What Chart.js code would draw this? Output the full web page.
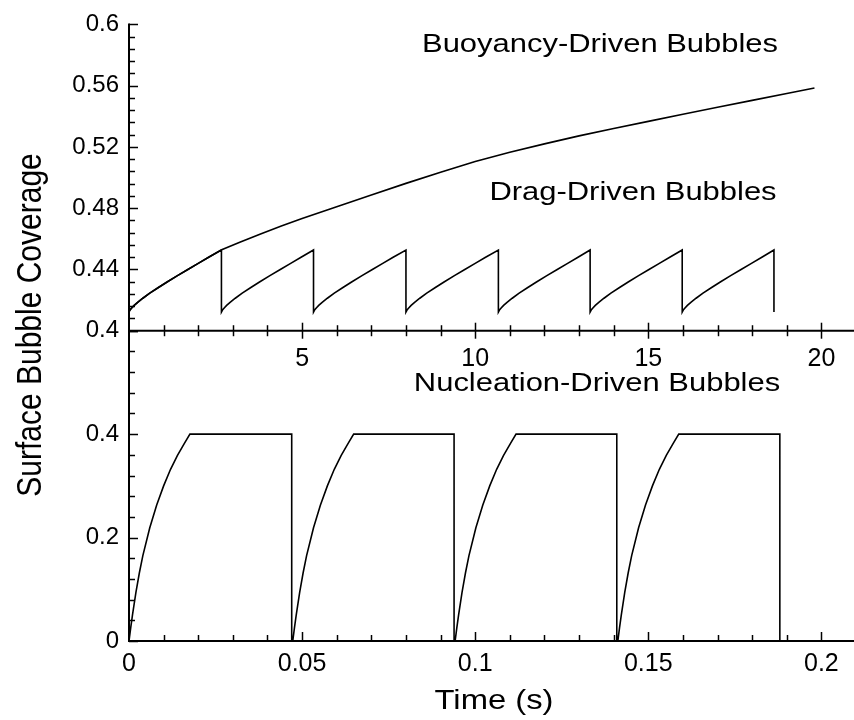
<!DOCTYPE html>
<html><head><meta charset="utf-8">
<script src="https://cdn.jsdelivr.net/npm/chart.js@4.4.1/dist/chart.umd.min.js"></script>
<style>html,body{margin:0;padding:0;background:#fff;overflow:hidden;width:854px;height:720px}canvas{display:block}</style>
</head><body>
<canvas id="c" width="856" height="720"></canvas>
<script>
// ---- Top panel (time axis labelled 0..20) ----
const buoyancyTime = [0, 0.03, 0.08, 0.15, 0.25, 0.4, 0.6, 0.85, 1.1, 1.4, 1.7, 2.0, 2.3, 2.66, 3.2, 3.8, 4.4, 5, 6, 7, 8, 9, 10, 11, 12, 13, 14, 15, 16, 17, 18, 19, 19.8];
const buoyancyCoverage = [0.4127, 0.4137, 0.4150, 0.4166, 0.4185, 0.4212, 0.4245, 0.4282, 0.4318, 0.4360, 0.4400, 0.4440, 0.4480, 0.4527, 0.4578, 0.4632, 0.4683, 0.4732, 0.4809, 0.4886, 0.4962, 0.5035, 0.5105, 0.5165, 0.5220, 0.5272, 0.5320, 0.5367, 0.5413, 0.5459, 0.5504, 0.5549, 0.5585];

// drag-driven saw tooth: one cycle shape, plus the cycle start / drop times
const dragToothOffset = [0, 0.03, 0.08, 0.15, 0.25, 0.4, 0.6, 0.85, 1.1, 1.4, 1.7, 2.0, 2.3, 2.66];
const dragToothCoverage = [0.4122, 0.4135, 0.4148, 0.4165, 0.4185, 0.4212, 0.4245, 0.4282, 0.4318, 0.4360, 0.4400, 0.4440, 0.4480, 0.4527];
const dragCycleStart = [0, 2.67, 5.33, 8.0, 10.67, 13.32, 15.98];
const dragDropTime = [2.67, 5.33, 8.0, 10.67, 13.32, 15.98, 18.63];

// ---- Bottom panel (time in s) ----
const nucRiseOffset = [0, 0.0005, 0.001, 0.002, 0.003, 0.004, 0.006, 0.008, 0.010, 0.012, 0.014, 0.016, 0.0176];
const nucRiseCoverage = [0, 0.026, 0.050, 0.094, 0.132, 0.165, 0.219, 0.263, 0.300, 0.332, 0.359, 0.382, 0.4];
const nucCycleStart = [0, 0.0473, 0.0942, 0.1412];
const nucDropTime = [0.0470, 0.0939, 0.1409, 0.1880];

const topXTicks = [5, 10, 15, 20];
const topYTicks = [0.4, 0.44, 0.48, 0.52, 0.56, 0.6];
const bottomXTicks = [0, 0.05, 0.1, 0.15, 0.2];
const bottomYTicks = [0, 0.2, 0.4];

const labels = {
  yTitle: 'Surface Bubble Coverage',
  xTitle: 'Time (s)',
  buoyancy: 'Buoyancy-Driven Bubbles',
  drag: 'Drag-Driven Bubbles',
  nucleation: 'Nucleation-Driven Bubbles'
};

// ---- build tables ----
const buoyancyData = buoyancyTime.map((t, i) => ({x: t, y: buoyancyCoverage[i]}));
const dragData = [];
dragCycleStart.forEach((s, c) => {
  dragToothOffset.forEach((o, i) => {
    const t = i === dragToothOffset.length - 1 ? dragDropTime[c] : s + o;
    dragData.push({x: t, y: dragToothCoverage[i]});
  });
  dragData.push({x: dragDropTime[c], y: dragToothCoverage[0]});
});
const nucData = [];
nucCycleStart.forEach((s, c) => {
  nucRiseOffset.forEach((o, i) => nucData.push({x: s + o, y: nucRiseCoverage[i]}));
  nucData.push({x: nucDropTime[c], y: nucRiseCoverage[nucRiseCoverage.length - 1]});
  nucData.push({x: nucDropTime[c], y: 0});
});

const FONT = '"Liberation Sans", Arial, Helvetica, sans-serif';

const axesPlugin = {
  id: 'axesPlugin',
  afterDatasetsDraw(chart) {
    const {ctx, chartArea: a, scales} = chart;
    const {x, x2, y, y2} = scales;
    ctx.save();
    ctx.strokeStyle = '#000';
    ctx.lineCap = 'butt';
    const seg = (x1, y1, xx, yy, w) => { ctx.lineWidth = w; ctx.beginPath(); ctx.moveTo(x1, y1); ctx.lineTo(xx, yy); ctx.stroke(); };
    const midY = y.getPixelForValue(0.4);
    // axis lines
    seg(a.left, y.getPixelForValue(0.6) - 1, a.left, a.bottom + 1, 2);
    seg(a.left - 1, midY, a.right, midY, 2);
    seg(a.left - 1, a.bottom, a.right, a.bottom, 2);
    // top y ticks (inward)
    for (let k = 0; k <= 25; k++) {
      const v = 0.4 + k * 0.008;
      const major = k % 5 === 0;
      const py = Math.round(y.getPixelForValue(v)) + 0.5;
      seg(a.left, py, a.left + (major ? 9 : 6), py, 1.5);
    }
    // bottom y ticks (inward)
    for (let k = 0; k <= 15; k++) {
      const v = k * 0.04;
      const major = k % 5 === 0;
      const py = Math.round(y2.getPixelForValue(v)) + 0.5;
      seg(a.left, py, a.left + (major ? 9 : 6), py, 1.5);
    }
    // middle x ticks (crossing)
    for (let k = 1; k <= 21; k++) {
      const major = k % 5 === 0;
      const px = Math.round(x2.getPixelForValue(k)) + 0.5;
      const l = major ? 8 : 5.5;
      seg(px, midY - l, px, midY + l, 1.5);
    }
    // bottom x ticks (inward)
    for (let k = 1; k <= 21; k++) {
      const major = k % 5 === 0;
      const px = Math.round(x.getPixelForValue(k * 0.01)) + 0.5;
      seg(px, a.bottom, px, a.bottom - (major ? 9 : 6), 1.5);
    }
    // text
    const opts = chart.options.plugins.axesPlugin;
    ctx.fillStyle = '#000';
    ctx.textAlign = 'center';
    ctx.textBaseline = 'middle';
    opts.texts.forEach(t => {
      ctx.save();
      ctx.translate(t.x, t.y);
      ctx.scale(t.sx || 1, 1);
      if (t.rot) ctx.rotate(t.rot);
      ctx.font = t.size + 'px ' + FONT;
      ctx.fillText(t.text, 0, 0);
      ctx.restore();
    });
    ctx.restore();
  }
};

const lineDs = (data, xAxisID, yAxisID) => ({
  data, xAxisID, yAxisID, borderColor: '#000', borderWidth: 1.6, pointRadius: 0,
  tension: 0, fill: false, parsing: false, normalized: true
});

const fixedTicks = arr => (s) => { s.ticks = arr.map(v => ({value: v})); };
const tickFont = (size) => ({family: FONT, size});

new Chart(document.getElementById('c'), {
  type: 'line',
  data: {
    datasets: [
      lineDs(buoyancyData, 'x2', 'y'),
      lineDs(dragData, 'x2', 'y'),
      lineDs(nucData, 'x', 'y2')
    ]
  },
  options: {
    responsive: false,
    animation: false,
    events: [],
    layout: {padding: {top: 19, right: 0, bottom: 0, left: 0}},
    plugins: {
      legend: {display: false},
      tooltip: {enabled: false},
      axesPlugin: {
        texts: [
          {text: labels.buoyancy, x: 600, y: 45, size: 26, sx: 1.19},
          {text: labels.drag, x: 633, y: 193, size: 26, sx: 1.19},
          {text: labels.nucleation, x: 597, y: 384, size: 26, sx: 1.19},
          {text: labels.xTitle, x: 494, y: 701, size: 28, sx: 1.17},
          {text: labels.yTitle, x: 31, y: 325, size: 30, sx: 1.17, rot: -Math.PI / 2}
        ]
      }
    },
    scales: {
      x: {
        type: 'linear', position: 'bottom', min: 0, max: 0.21,
        grid: {display: false, drawTicks: false}, border: {display: false},
        afterBuildTicks: fixedTicks(bottomXTicks),
        afterFit: s => { s.height = 79; },
        ticks: {color: '#000', font: tickFont(25), padding: 8, maxRotation: 0, autoSkip: false,
          callback: v => String(v)}
      },
      x2: {
        type: 'linear', position: {y: 0.4}, min: 0, max: 21,
        grid: {display: false, drawTicks: false}, border: {display: false},
        afterBuildTicks: fixedTicks(topXTicks),
        ticks: {color: '#000', font: tickFont(25), padding: 13, maxRotation: 0, autoSkip: false,
          callback: v => String(v)}
      },
      y2: {
        type: 'linear', position: 'left', stack: 'left', stackWeight: 313,
        min: 0, max: 0.6,
        grid: {display: false, drawTicks: false}, border: {display: false},
        afterBuildTicks: fixedTicks(bottomYTicks),
        afterFit: s => { s.width = 129; },
        ticks: {color: '#000', font: tickFont(24), padding: 10, autoSkip: false,
          callback: v => String(v)}
      },
      y: {
        type: 'linear', position: 'left', stack: 'left', stackWeight: 309,
        min: 0.4, max: 0.6,
        grid: {display: false, drawTicks: false}, border: {display: false},
        afterBuildTicks: fixedTicks(topYTicks),
        afterFit: s => { s.width = 129; },
        ticks: {color: '#000', font: tickFont(24), padding: 10, autoSkip: false,
          callback: v => String(v)}
      }
    }
  },
  plugins: [axesPlugin]
});
</script>
</body></html>
